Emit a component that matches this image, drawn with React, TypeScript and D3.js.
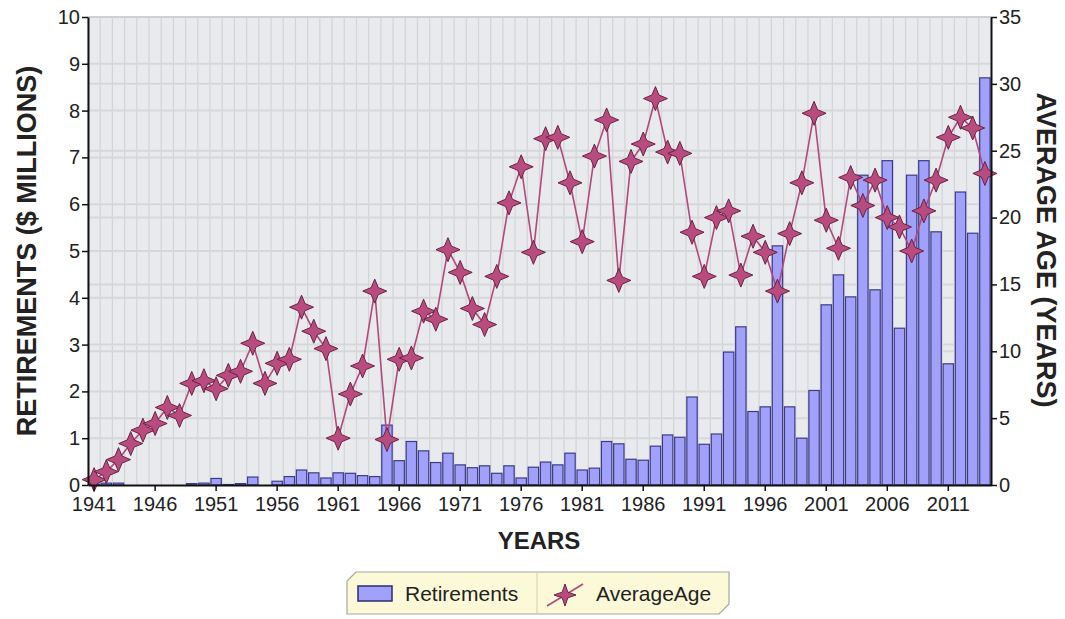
import React, { useEffect, useRef } from 'react';
import * as d3 from 'd3';

const years = d3.range(1941, 2015).map(String);

// retirements, $ millions
const retirements = [
  0.02, 0.04, 0.04, 0, 0, 0, 0, 0, 0.03, 0.04,
  0.14, 0.01, 0.03, 0.17, 0, 0.08, 0.18, 0.32, 0.26, 0.15,
  0.26, 0.25, 0.2, 0.18, 1.28, 0.52, 0.93, 0.73, 0.48, 0.68,
  0.43, 0.37, 0.41, 0.25, 0.41, 0.15, 0.38, 0.49, 0.43, 0.68,
  0.32, 0.36, 0.93, 0.88, 0.55, 0.53, 0.83, 1.07, 1.02, 1.88,
  0.87, 1.09, 2.84, 3.38, 1.57, 1.67, 5.11, 1.67, 1.0, 2.02,
  3.85, 4.49, 4.02, 6.62, 4.17, 6.93, 3.35, 6.62, 6.93, 5.41,
  2.59, 6.26, 5.38, 8.7,
];

// average age, years
const averageAge = [
  0.4, 1.0, 1.9, 3.1, 4.1, 4.6, 5.8, 5.2, 7.6, 7.8,
  7.2, 8.2, 8.5, 10.6, 7.6, 9.1, 9.4, 13.3, 11.5, 10.2,
  3.5, 6.8, 8.9, 14.5, 3.4, 9.4, 9.5, 13.0, 12.4, 17.6,
  15.9, 13.2, 12.0, 15.6, 21.1, 23.8, 17.4, 25.9, 26.0, 22.6,
  18.2, 24.6, 27.3, 15.3, 24.2, 25.5, 28.9, 24.9, 24.8, 18.9,
  15.6, 20.0, 20.5, 15.7, 18.6, 17.4, 14.5, 18.8, 22.6, 27.8,
  19.8, 17.7, 23.0, 20.9, 22.8, 20.0, 19.3, 17.5, 20.5, 22.8,
  26.0, 27.5, 26.7, 23.3,
];

const leftTicks = d3.range(0, 11);
const rightTicks = d3.range(0, 36, 5);
const xTickYears = d3.range(1941, 2015, 5).map(String);

const FONT = '"Liberation Sans", Arial, sans-serif';

function starPath(cx: number, cy: number, outer: number, inner: number) {
  const p = d3.path();
  for (let i = 0; i < 8; i++) {
    const a = (Math.PI / 4) * i - Math.PI / 2;
    const r = i % 2 === 0 ? outer : inner;
    const px = cx + r * Math.cos(a);
    const py = cy + r * Math.sin(a);
    if (i === 0) p.moveTo(px, py);
    else p.lineTo(px, py);
  }
  p.closePath();
  return p.toString();
}

export default function App() {
  const svgRef = useRef<SVGSVGElement>(null);

  useEffect(() => {
    if (!svgRef.current) return;
    const svg = d3.select(svgRef.current);
    svg.selectAll('*').remove();

    const left = 88, right = 991, top = 17, bottom = 485;

    const x = d3.scaleBand<string>()
      .domain(years)
      .range([left, right])
      .paddingInner(0.15)
      .paddingOuter(0.075);
    const yL = d3.scaleLinear().domain([0, 10]).range([bottom, top]);
    const yR = d3.scaleLinear().domain([0, 35]).range([bottom, top]);

    // plot background
    svg.append('rect')
      .attr('x', left).attr('y', top)
      .attr('width', right - left).attr('height', bottom - top)
      .attr('fill', '#e8eaed');

    // vertical grid between years
    const step = x.step();
    svg.append('g')
      .selectAll('line')
      .data(years)
      .enter()
      .append('line')
      .attr('x1', d => (x(d) || 0) - step * 0.075)
      .attr('x2', d => (x(d) || 0) - step * 0.075)
      .attr('y1', top).attr('y2', bottom)
      .attr('stroke', '#d2d4d7')
      .attr('stroke-width', 1.2);

    // horizontal grid, both axes
    svg.append('g')
      .selectAll('line')
      .data(leftTicks.slice(1))
      .enter()
      .append('line')
      .attr('x1', left).attr('x2', right)
      .attr('y1', d => yL(d)).attr('y2', d => yL(d))
      .attr('stroke', '#d6d7d9')
      .attr('stroke-width', 2);
    svg.append('g')
      .selectAll('line')
      .data(rightTicks.slice(1))
      .enter()
      .append('line')
      .attr('x1', left).attr('x2', right)
      .attr('y1', d => yR(d)).attr('y2', d => yR(d))
      .attr('stroke', '#d6d7d9')
      .attr('stroke-width', 2);

    // bars
    svg.append('g')
      .selectAll('rect')
      .data(retirements)
      .enter()
      .append('rect')
      .attr('x', (d, i) => x(years[i]) || 0)
      .attr('y', d => yL(d))
      .attr('width', x.bandwidth())
      .attr('height', d => bottom - yL(d))
      .attr('fill', '#a1a1fb')
      .attr('stroke', '#3c3c86')
      .attr('stroke-width', 1.2);

    // average age line
    const line = d3.line<number>()
      .x((d, i) => (x(years[i]) || 0) + x.bandwidth() / 2)
      .y(d => yR(d));
    svg.append('path')
      .datum(averageAge)
      .attr('d', line)
      .attr('fill', 'none')
      .attr('stroke', '#b2497a')
      .attr('stroke-width', 1.6);

    svg.append('g')
      .selectAll('path')
      .data(averageAge)
      .enter()
      .append('path')
      .attr('d', (d, i) => starPath((x(years[i]) || 0) + x.bandwidth() / 2, yR(d), 12, 5))
      .attr('fill', '#b94c7f')
      .attr('stroke', '#6a2246')
      .attr('stroke-width', 1);

    // top border
    svg.append('line')
      .attr('x1', left).attr('x2', right)
      .attr('y1', top).attr('y2', top)
      .attr('stroke', '#c8c8c8');

    // axes
    const axisLeft = svg.append('g')
      .attr('transform', `translate(${left},0)`)
      .call(d3.axisLeft(yL).tickValues(leftTicks).tickSize(6).tickSizeOuter(0));
    const axisRight = svg.append('g')
      .attr('transform', `translate(${right},0)`)
      .call(d3.axisRight(yR).tickValues(rightTicks).tickSize(6).tickSizeOuter(0));
    const axisBottom = svg.append('g')
      .attr('transform', `translate(0,${bottom})`)
      .call(d3.axisBottom(x).tickValues(xTickYears).tickSize(6).tickSizeOuter(0));

    [axisLeft, axisRight, axisBottom].forEach(g => {
      g.select('.domain').attr('stroke', '#111').attr('stroke-width', 2);
      g.selectAll('.tick line').attr('stroke', '#111').attr('stroke-width', 1.5);
      g.selectAll('.tick text')
        .attr('font-family', FONT)
        .attr('font-size', 20)
        .attr('fill', '#222');
    });
    axisLeft.selectAll('.tick text').attr('x', -8);
    axisRight.selectAll('.tick text').attr('x', 8);
    axisBottom.selectAll('.tick text').attr('y', 11).attr('dy', '0.75em');

    // axis titles
    svg.append('text')
      .attr('transform', `translate(27,251) rotate(-90)`)
      .attr('dy', '0.35em')
      .attr('text-anchor', 'middle')
      .attr('font-family', FONT)
      .attr('font-weight', 'bold')
      .attr('font-size', 27)
      .attr('fill', '#222')
      .text('RETIREMENTS ($ MILLIONS)');
    svg.append('text')
      .attr('transform', `translate(1046,250) rotate(90)`)
      .attr('dy', '0.35em')
      .attr('text-anchor', 'middle')
      .attr('font-family', FONT)
      .attr('font-weight', 'bold')
      .attr('font-size', 27)
      .attr('fill', '#222')
      .text('AVERAGE AGE (YEARS)');
    svg.append('text')
      .attr('x', 539).attr('y', 549)
      .attr('text-anchor', 'middle')
      .attr('font-family', FONT)
      .attr('font-weight', 'bold')
      .attr('font-size', 24)
      .attr('fill', '#222')
      .text('YEARS');

    // legend
    const lg = svg.append('g');
    lg.append('path')
      .attr('d', 'M356,572 L729,572 L729,604 L719,614 L347,614 L347,581 Z')
      .attr('fill', '#fcf9d9')
      .attr('stroke', '#a6a6a0')
      .attr('stroke-width', 1.2);
    lg.append('line')
      .attr('x1', 537).attr('x2', 537)
      .attr('y1', 573).attr('y2', 613)
      .attr('stroke', '#cfcdb5');
    lg.append('rect')
      .attr('x', 358).attr('y', 586)
      .attr('width', 34).attr('height', 15)
      .attr('fill', '#a1a1fb')
      .attr('stroke', '#2c2c70')
      .attr('stroke-width', 1.5);
    lg.append('text')
      .attr('x', 405).attr('y', 601)
      .attr('font-family', FONT)
      .attr('font-size', 21)
      .attr('fill', '#222')
      .text('Retirements');
    lg.append('line')
      .attr('x1', 547).attr('x2', 583)
      .attr('y1', 606).attr('y2', 584)
      .attr('stroke', '#b2497a')
      .attr('stroke-width', 1.6);
    lg.append('path')
      .attr('d', starPath(565, 595, 11, 4))
      .attr('fill', '#b94c7f')
      .attr('stroke', '#6a2246')
      .attr('stroke-width', 1);
    lg.append('text')
      .attr('x', 596).attr('y', 601)
      .attr('font-family', FONT)
      .attr('font-size', 21)
      .attr('fill', '#222')
      .text('AverageAge');
  }, []);

  return (
    <svg
      ref={svgRef}
      width={1065}
      height={619}
      style={{ position: 'absolute', left: 0, top: 0, background: '#fff' }}
    />
  );
}
